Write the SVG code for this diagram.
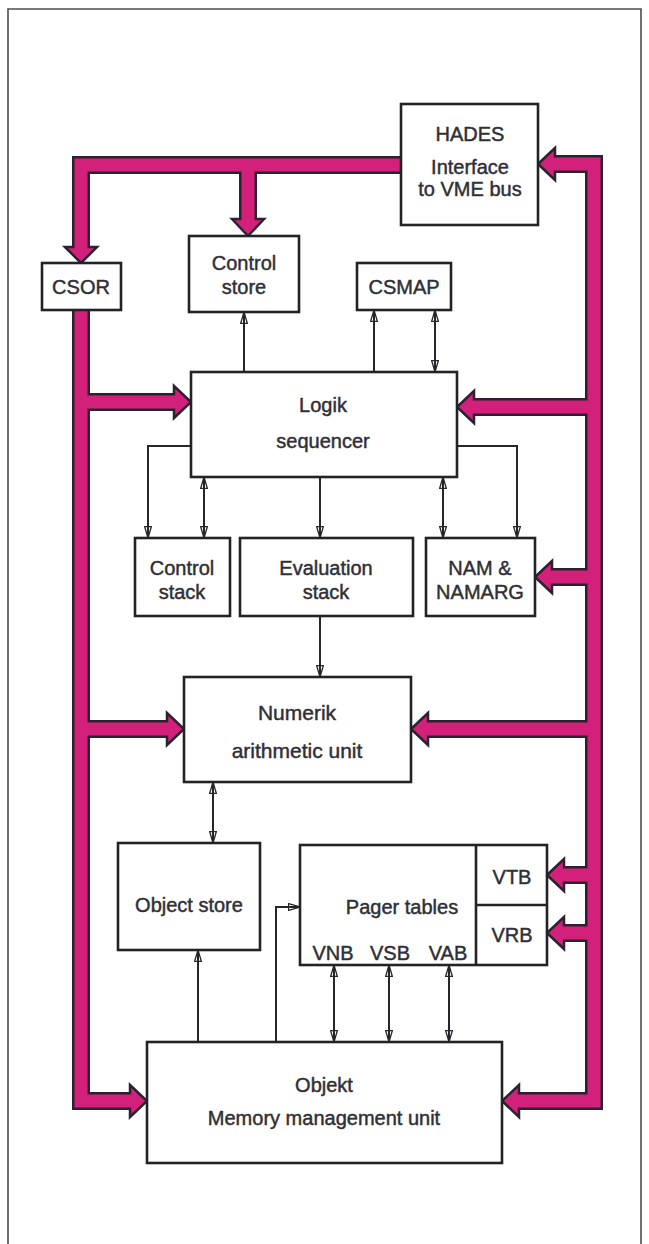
<svg xmlns="http://www.w3.org/2000/svg" width="649" height="1244" viewBox="0 0 649 1244">
  <defs>
    <style>
      .box { fill: #ffffff; stroke: #232326; stroke-width: 2.6; }
      .lbl { font-family: "Liberation Sans", Arial, Helvetica, sans-serif; font-size: 20px; fill: #2f2f36; stroke: #2f2f36; stroke-width: 0.45; text-anchor: middle; }
      .big { font-size: 21px; }
      .wire { fill: none; stroke: #262629; stroke-width: 2; }
      .busEdge { fill: none; stroke: #2a2230; stroke-width: 18; stroke-linejoin: miter; stroke-linecap: butt; }
      .busFill { fill: none; stroke: #d3217b; stroke-width: 13; stroke-linejoin: miter; stroke-linecap: butt; }
      .busHead { fill: #d3217b; stroke: #2a2230; stroke-width: 2.5; stroke-linejoin: miter; }
    </style>
    <marker id="tip" viewBox="0 0 12 8" refX="12" refY="4" markerWidth="12" markerHeight="8" markerUnits="userSpaceOnUse" orient="auto-start-reverse">
      <path d="M0.5,0.6 L12,4 L0.5,7.4 Z" fill="none" stroke="#262629" stroke-width="1.3"/>
    </marker>
  </defs>

  <rect width="649" height="1244" fill="#ffffff"/>
  <!-- page frame -->
  <path d="M8,1244 V9 H641 V1244" fill="none" stroke="#4b4b55" stroke-width="1.6"/>

  <!-- magenta system buses: dark edge, heads, then fill on top so joints merge -->
  <g id="buses">
    <path class="busEdge" d="M81,247 V165 H401 M248,165 V219 M81,310 V1101 H130 M81,402 H174 M81,729 H167 M555,164 H594 V1101 H519 M594,407 H474 M594,577 H552 M594,729 H428 M594,875 H564 M594,933 H564"/>
    <polygon class="busHead" points="65,247 81,263 97,247"/>
    <polygon class="busHead" points="232,219 248,236 264,219"/>
    <polygon class="busHead" points="130,1085 147,1101 130,1117"/>
    <polygon class="busHead" points="174,386 191,402 174,418"/>
    <polygon class="busHead" points="167,713 184,729 167,745"/>
    <polygon class="busHead" points="555,148 538,164 555,180"/>
    <polygon class="busHead" points="519,1085 502,1101 519,1117"/>
    <polygon class="busHead" points="474,391 457,407 474,423"/>
    <polygon class="busHead" points="552,561 535,577 552,593"/>
    <polygon class="busHead" points="428,713 411,729 428,745"/>
    <polygon class="busHead" points="564,859 547,875 564,891"/>
    <polygon class="busHead" points="564,917 547,933 564,949"/>
    <path class="busFill" d="M81,250 V165 H402 M248,165 V222 M81,311 V1101 H133 M81,402 H177 M81,729 H170 M552,164 H594 V1101 H516 M594,407 H471 M594,577 H549 M594,729 H425 M594,875 H561 M594,933 H561"/>
  </g>

  <!-- signal lines -->
  <g id="connectors">
    <path class="wire" d="M244,372 V312" marker-end="url(#tip)"/>
    <path class="wire" d="M374,372 V310" marker-end="url(#tip)"/>
    <path class="wire" d="M435,310 V372" marker-start="url(#tip)" marker-end="url(#tip)"/>
    <path class="wire" d="M191,446 H148 V538" marker-end="url(#tip)"/>
    <path class="wire" d="M204,477 V538" marker-start="url(#tip)" marker-end="url(#tip)"/>
    <path class="wire" d="M320,477 V538" marker-end="url(#tip)"/>
    <path class="wire" d="M443,477 V538" marker-start="url(#tip)" marker-end="url(#tip)"/>
    <path class="wire" d="M457,446 H517 V538" marker-end="url(#tip)"/>
    <path class="wire" d="M320,616 V677" marker-end="url(#tip)"/>
    <path class="wire" d="M213,782 V843" marker-start="url(#tip)" marker-end="url(#tip)"/>
    <path class="wire" d="M198,1042 V950" marker-end="url(#tip)"/>
    <path class="wire" d="M276,1042 V907 H300" marker-end="url(#tip)"/>
    <path class="wire" d="M334,965 V1042" marker-start="url(#tip)" marker-end="url(#tip)"/>
    <path class="wire" d="M389,965 V1042" marker-start="url(#tip)" marker-end="url(#tip)"/>
    <path class="wire" d="M449,965 V1042" marker-start="url(#tip)" marker-end="url(#tip)"/>
  </g>

  <g id="hades">
    <rect class="box" x="401" y="104" width="137" height="121"/>
    <text class="lbl" x="470" y="141">HADES</text>
    <text class="lbl" x="470" y="174">Interface</text>
    <text class="lbl" x="470" y="196">to VME bus</text>
  </g>
  <g id="csor">
    <rect class="box" x="42" y="263" width="79" height="47"/>
    <text class="lbl" x="81" y="294">CSOR</text>
  </g>
  <g id="control-store">
    <rect class="box" x="189" y="236" width="110" height="76"/>
    <text class="lbl" x="244" y="270">Control</text>
    <text class="lbl" x="244" y="294">store</text>
  </g>
  <g id="csmap">
    <rect class="box" x="357" y="263" width="94" height="47"/>
    <text class="lbl" x="404" y="294">CSMAP</text>
  </g>
  <g id="logik">
    <rect class="box" x="191" y="372" width="266" height="105"/>
    <text class="lbl" x="323" y="412">Logik</text>
    <text class="lbl" x="323" y="448">sequencer</text>
  </g>
  <g id="control-stack">
    <rect class="box" x="135" y="538" width="95" height="78"/>
    <text class="lbl" x="182" y="575">Control</text>
    <text class="lbl" x="182" y="599">stack</text>
  </g>
  <g id="evaluation-stack">
    <rect class="box" x="240" y="538" width="173" height="78"/>
    <text class="lbl" x="326" y="575">Evaluation</text>
    <text class="lbl" x="326" y="599">stack</text>
  </g>
  <g id="nam">
    <rect class="box" x="426" y="538" width="109" height="78"/>
    <text class="lbl" x="480" y="575">NAM &amp;</text>
    <text class="lbl" x="480" y="599">NAMARG</text>
  </g>
  <g id="numerik">
    <rect class="box" x="184" y="677" width="227" height="105"/>
    <text class="lbl big" x="297" y="720">Numerik</text>
    <text class="lbl big" x="297" y="758">arithmetic unit</text>
  </g>
  <g id="object-store">
    <rect class="box" x="118" y="843" width="142" height="107"/>
    <text class="lbl" x="189" y="912">Object store</text>
  </g>
  <g id="pager-tables">
    <rect class="box" x="300" y="845" width="247" height="120"/>
    <path d="M476,845 V965 M476,905 H547" fill="none" stroke="#232326" stroke-width="2.6"/>
    <text class="lbl" x="402" y="914">Pager tables</text>
    <text class="lbl" x="333" y="960">VNB</text>
    <text class="lbl" x="390" y="960">VSB</text>
    <text class="lbl" x="448" y="960">VAB</text>
    <text class="lbl" x="512" y="884">VTB</text>
    <text class="lbl" x="512" y="942">VRB</text>
  </g>
  <g id="objekt">
    <rect class="box" x="147" y="1042" width="355" height="121"/>
    <text class="lbl" x="324" y="1092">Objekt</text>
    <text class="lbl" x="324" y="1125">Memory management unit</text>
  </g>
</svg>
